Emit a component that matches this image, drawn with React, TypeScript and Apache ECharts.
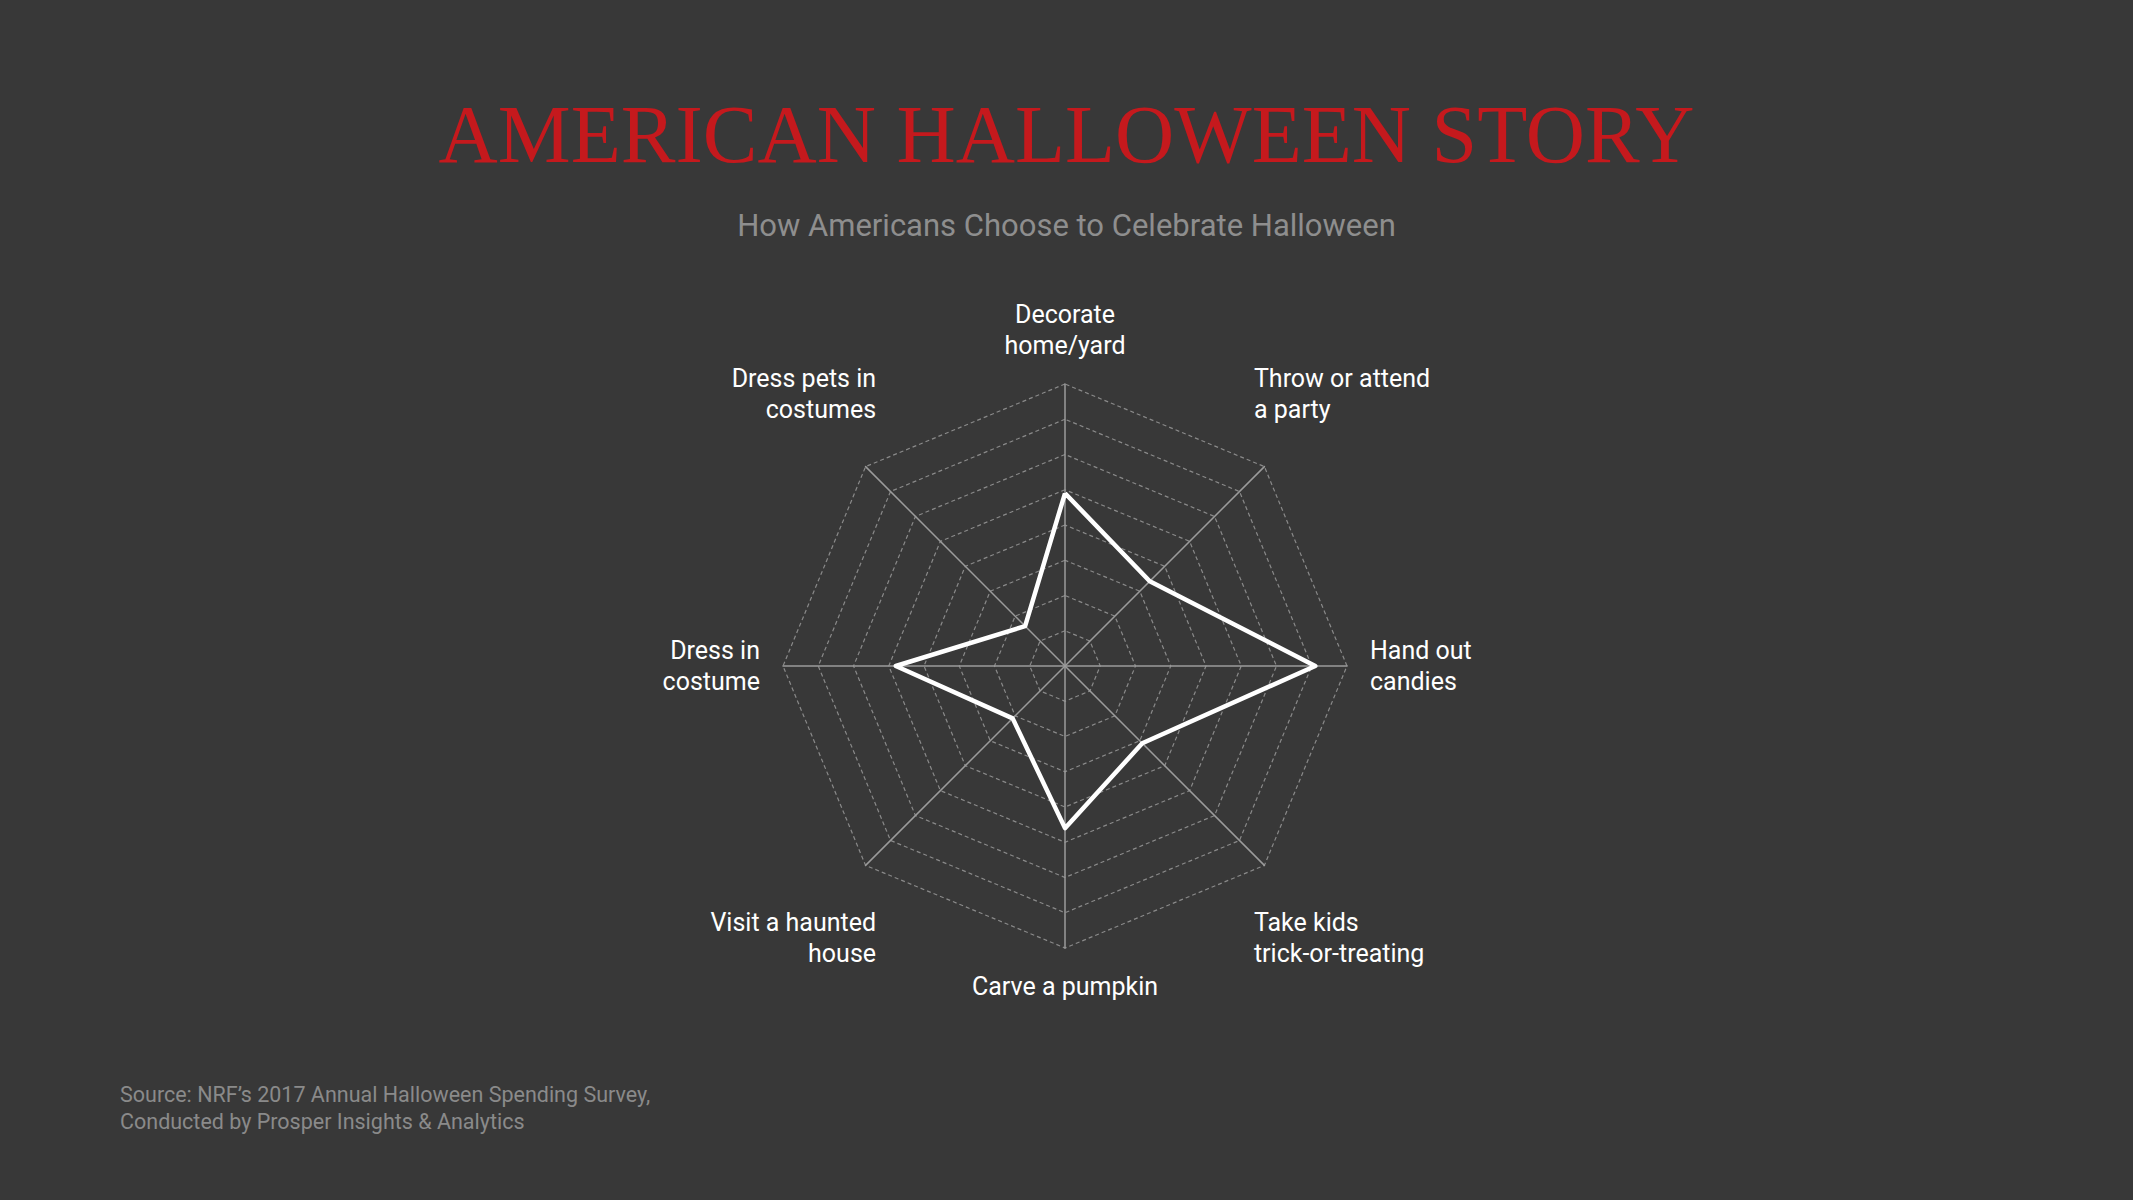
import { useEffect, useRef } from "react";
import * as echarts from "echarts";

// radar order runs counter-clockwise from the top
const activities = [
  "Decorate\nhome/yard",
  "Dress pets in\ncostumes",
  "Dress in\ncostume",
  "Visit a haunted\nhouse",
  "Carve a pumpkin",
  "Take kids\ntrick-or-treating",
  "Hand out\ncandies",
  "Throw or attend\na party",
];
const shares = [49, 16, 48, 21, 46, 31, 71, 34];
const maxShare = 80;

const CX = 1065;
const CY = 666;
const R = 282;
const LABEL_GAP = 23;

function labelGraphics() {
  return activities.map((name, i) => {
    const a = ((90 + i * 45) * Math.PI) / 180;
    const c = Math.cos(a);
    const s = Math.sin(a);
    const near0 = (v: number) => Math.abs(v) < 1e-6;
    let x: number;
    let y: number;
    let verticalAlign = "middle";
    if (i % 2 === 0) {
      x = CX + (R + LABEL_GAP) * c;
      y = CY - (R + LABEL_GAP) * s;
      if (!near0(s)) verticalAlign = s > 0 ? "bottom" : "top";
    } else {
      // diagonal labels sit higher/lower than the spokes
      x = CX + Math.sign(c) * R * 0.67;
      y = CY - Math.sign(s) * R * 0.965;
    }
    const align = near0(c) ? "center" : c > 0 ? "left" : "right";
    return {
      type: "text",
      x,
      y,
      silent: true,
      style: {
        text: name,
        fill: "#ffffff",
        fontFamily: "Roboto",
        fontSize: 25,
        lineHeight: 31,
        align,
        verticalAlign,
      },
    };
  });
}

export default function App() {
  const chartRef = useRef<HTMLDivElement>(null);

  useEffect(() => {
    document.body.style.margin = "0";
    document.body.style.background = "#383838";
    const chart = echarts.init(chartRef.current, null, { renderer: "svg" });

    chart.setOption({
      animation: false,
      backgroundColor: "#383838",
      title: [
        {
          text: "AMERICAN HALLOWEEN STORY",
          left: "center",
          top: 93,
          padding: 0,
          textStyle: {
            fontFamily: "Liberation Serif",
            fontSize: 82,
            fontWeight: "normal",
            color: "#c5191d",
          },
        },
        {
          text: "How Americans Choose to Celebrate Halloween",
          left: "center",
          top: 210,
          padding: 0,
          textStyle: {
            fontFamily: "Roboto",
            fontSize: 31,
            fontWeight: "normal",
            color: "#8e8e8e",
          },
        },
        {
          text: "Source: NRF’s 2017 Annual Halloween Spending Survey,\nConducted by Prosper Insights & Analytics",
          left: 120,
          top: 1081,
          padding: 0,
          textStyle: {
            fontFamily: "Roboto",
            fontSize: 21.5,
            lineHeight: 27,
            fontWeight: "normal",
            color: "#8a8a8a",
          },
        },
      ],
      radar: {
        center: [CX, CY],
        radius: R,
        startAngle: 90,
        splitNumber: 8,
        shape: "polygon",
        indicator: activities.map((name) => ({ name, min: 0, max: maxShare })),
        axisName: { show: false },
        axisLine: { lineStyle: { color: "#9b9b9b", width: 1.5 } },
        splitLine: { lineStyle: { color: "#8a8a8a", width: 1.2, type: [4, 3] } },
        splitArea: { show: false },
      },
      series: [
        {
          name: "Share of Americans",
          type: "radar",
          symbol: "none",
          lineStyle: { color: "#ffffff", width: 4.5 },
          data: [{ value: shares, name: "2017" }],
        },
      ],
      graphic: labelGraphics(),
    });

    return () => {
      chart.dispose();
    };
  }, []);

  return <div ref={chartRef} style={{ width: "2133px", height: "1200px" }} />;
}
